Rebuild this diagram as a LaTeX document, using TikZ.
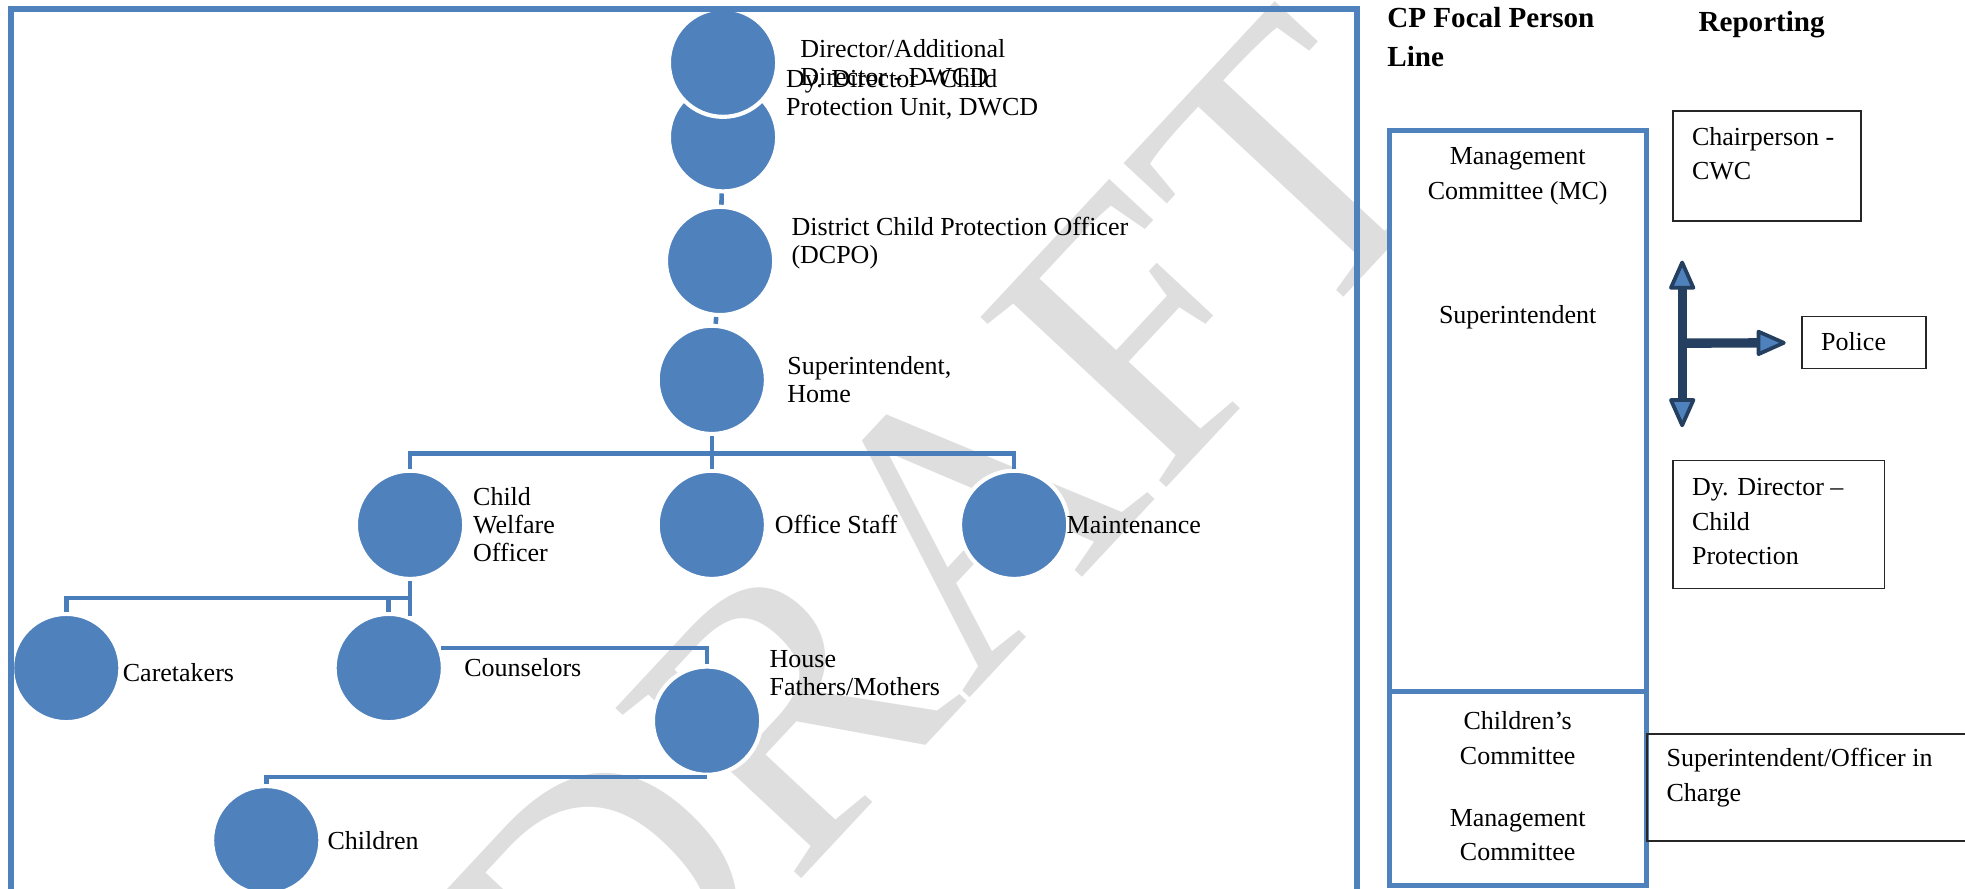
\documentclass[tikz,border=0pt]{standalone}
\usepackage{fontspec}
\setmainfont{Liberation Serif}
\usetikzlibrary{positioning,arrows.meta}
\definecolor{cpblue}{RGB}{79,129,189}
\definecolor{cpline}{RGB}{74,126,187}
\definecolor{cpnavy}{RGB}{36,63,96}
\definecolor{wmark}{RGB}{222,222,222}

\begin{document}
\begin{tikzpicture}[
  every node/.style={font=\fontsize{12.5}{13.5}\selectfont},
  orgdot/.style={circle, fill=cpblue, draw=white, line width=2pt,
                 minimum size=1.83cm, inner sep=0pt},
  lbl/.style={align=left, inner sep=0pt},
  orgline/.style={draw=cpline, line width=2.2pt},
  frame/.style={draw=cpblue, line width=2.9pt},
  bluebox/.style={draw=cpblue, line width=2.4pt, fill=white,
                  inner sep=0pt, outer sep=0pt},
  blkbox/.style={draw=black!85, line width=0.7pt, inner sep=0pt},
  rtxt/.style={align=center, inner sep=0pt,
               font=\fontsize{12.5}{16.6}\selectfont},
  rlbl/.style={align=left, anchor=west, inner sep=0pt,
               font=\fontsize{12.5}{16.6}\selectfont},
  hdr/.style={align=left, anchor=west, inner sep=0pt,
              font=\fontsize{14}{18.7}\selectfont\bfseries},
  rep/.style={-{Triangle[length=5.4mm, width=4.6mm, fill=cpblue,
              line width=1.8pt, round]}, draw=cpnavy, line width=4.5pt},
]
\useasboundingbox (0,0) rectangle (33.21,-15.01);
\clip (0,0) rectangle (33.21,-15.01);

% watermark
\node[inner sep=0pt, text=wmark, rotate=47,
      font=\fontsize{185}{185}\selectfont] (draft) at (15.90,-9.19) {DRAFT};

% hierarchy
\node[orgdot] (dy)    at (12.22,-2.32) {};
\node[orgdot] (dir)   at (12.22,-1.06) {};
\node[orgdot] (dcpo)  at (12.17,-4.41) {};
\node[orgdot] (sup)   at (12.03,-6.42) {};
\node[orgdot] (cwo)   at (6.93,-8.87) {};
\node[orgdot] (off)   at (12.03,-8.87) {};
\node[orgdot] (maint) at (17.14,-8.87) {};
\node[orgdot] (care)  at (1.12,-11.29) {};
\node[orgdot] (couns) at (6.57,-11.29) {};
\node[orgdot] (house) at (11.95,-12.18) {};
\node[orgdot] (child) at (4.50,-14.20) {};

% outer frame
\draw[frame] (0.19,-0.15) rectangle (22.93,-15.6);

\node[lbl, right=0.35cm of dir] (dirT) {Director/Additional\\Director - DWCD};
\node[lbl, right=0.11cm of dy, yshift=0.73cm] (dyT)
     {Dy. Director - Child\\Protection Unit, DWCD};
\node[lbl, right=0.25cm of dcpo, yshift=0.30cm] (dcpoT)
     {District Child Protection Officer\\(DCPO)};
\node[lbl, right=0.32cm of sup] (supT) {Superintendent,\\Home};
\node[lbl, right=0.11cm of cwo] (cwoT) {Child\\Welfare\\Officer};
\node[lbl, right=0.11cm of off] (offT) {Office Staff};
\node[lbl, right=-0.07cm of maint] (maintT) {Maintenance};
\node[lbl, right=0cm of care, yshift=-0.08cm] (careT) {Caretakers};
\node[lbl, right=0.32cm of couns] (counsT) {Counselors};
\node[lbl, right=0.10cm of house, yshift=0.81cm] (houseT) {House\\Fathers/Mothers};
\node[lbl, right=0.08cm of child] (childT) {Children};

\draw[orgline] (dy) -- (dcpo);
\draw[orgline] (dcpo) -- (sup);
\draw[orgline] (sup.south) -- ++(0,-0.29) -| (cwo.north);
\draw[orgline] (sup.south) -- ++(0,-0.29) -| (maint.north);
\draw[orgline] (sup.south) -- (off.north);
\draw[orgline] (cwo.south) -- ++(0,-0.59);
\draw[orgline] ([yshift=-0.29cm]cwo.south) -| (care.north);
\draw[orgline] ([yshift=-0.29cm]cwo.south) -| (couns.north);
\draw[orgline] (couns.21) -| (house.north);
\draw[orgline] (house.south) -| (child.north);

% focal person line
\node[hdr] (cpT) at (23.44,-0.63) {CP Focal Person\\Line};
\node[hdr] (repT) at (28.70,-0.42) {Reporting};

\node[bluebox, anchor=north west, minimum width=4.33cm,
      minimum height=9.49cm] (mcbox) at (23.49,-2.20) {};
\node[bluebox, anchor=north, minimum width=4.33cm,
      minimum height=3.27cm] (ccbox) at (mcbox.south) {};
\node[rtxt] (mcT) at (25.65,-2.98) {Management\\Committee (MC)};
\node[rtxt] (supR) at (25.65,-5.37) {Superintendent};
\node[rtxt] (ccT) at (25.65,-13.29)
     {Children's\\Committee\\[0.46cm]Management\\Committee};

% reporting
\node[blkbox, anchor=north west, minimum width=3.18cm,
      minimum height=1.86cm] (chair) at (28.26,-1.86) {};
\node[rlbl] (chairT) at (28.59,-2.60) {Chairperson -\\CWC};
\node[blkbox, anchor=north west, minimum width=2.10cm,
      minimum height=0.88cm] (police) at (30.44,-5.34) {};
\node[rlbl] (policeT) at (30.77,-5.78) {Police};
\node[blkbox, anchor=north west, minimum width=3.58cm,
      minimum height=2.16cm] (dyd) at (28.26,-7.77) {};
\node[rlbl] (dydT) at (28.59,-8.82) {Dy. Director --\\Child\\Protection};
\node[blkbox, anchor=north west, minimum width=6cm,
      minimum height=1.81cm] (soic) at (27.82,-12.39) {};
\node[rlbl] (soicT) at (28.16,-13.14) {Superintendent/Officer in\\Charge};

\coordinate (hub) at (28.43,-5.80);
\draw[rep, shorten >=0.66cm] (hub) -- (hub |- chair.south);
\draw[rep, shorten >=0.55cm] (hub) -- (hub |- dyd.north);
\draw[rep, shorten >=0.26cm] (hub) -- (police.west);
\end{tikzpicture}
\end{document}
